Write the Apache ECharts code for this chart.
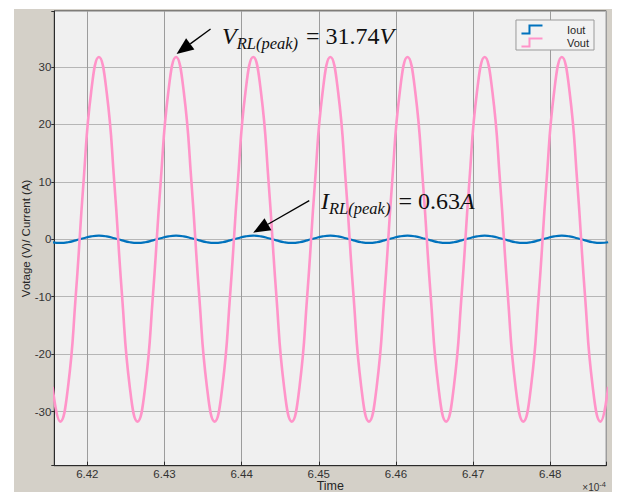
<!DOCTYPE html>
<html><head><meta charset="utf-8">
<script src="https://cdn.jsdelivr.net/npm/echarts@6/dist/echarts.min.js"></script>
<style>
html,body{margin:0;padding:0;background:#fff;}
#wrap{position:relative;width:618px;height:492px;overflow:hidden;}
#bg{position:absolute;left:14px;top:9px;width:598px;height:483px;background:#d4d0c8;}
#chart{position:absolute;left:0;top:0;width:618px;height:492px;}
</style></head><body>
<div id="wrap"><div id="bg"></div><div id="chart"></div></div>
<script>
// Time in units of 1e-4 s
const time = [
6.4155,6.4165,6.4175,6.4185,6.4195,6.4205,6.4215,6.4225,6.4235,6.4245,
6.4255,6.4265,6.4275,6.4285,6.4295,6.4305,6.4315,6.4325,6.4335,6.4345,
6.4355,6.4365,6.4375,6.4385,6.4395,6.4405,6.4415,6.4425,6.4435,6.4445,
6.4455,6.4465,6.4475,6.4485,6.4495,6.4505,6.4515,6.4525,6.4535,6.4545,
6.4555,6.4565,6.4575,6.4585,6.4595,6.4605,6.4615,6.4625,6.4635,6.4645,
6.4655,6.4665,6.4675,6.4685,6.4695,6.4705,6.4715,6.4725,6.4735,6.4745,
6.4755,6.4765,6.4775,6.4785,6.4795,6.4805,6.4815,6.4825,6.4835,6.4845,
6.4855,6.4865,6.4875];
const vout = [
-25.68,-31.74,-25.68,-9.81,9.81,25.68,31.74,25.68,9.81,-9.81,
-25.68,-31.74,-25.68,-9.81,9.81,25.68,31.74,25.68,9.81,-9.81,
-25.68,-31.74,-25.68,-9.81,9.81,25.68,31.74,25.68,9.81,-9.81,
-25.68,-31.74,-25.68,-9.81,9.81,25.68,31.74,25.68,9.81,-9.81,
-25.68,-31.74,-25.68,-9.81,9.81,25.68,31.74,25.68,9.81,-9.81,
-25.68,-31.74,-25.68,-9.81,9.81,25.68,31.74,25.68,9.81,-9.81,
-25.68,-31.74,-25.68,-9.81,9.81,25.68,31.74,25.68,9.81,-9.81,
-25.68,-31.74,-25.68];
const iout = [
-0.51,-0.63,-0.51,-0.19,0.19,0.51,0.63,0.51,0.19,-0.19,
-0.51,-0.63,-0.51,-0.19,0.19,0.51,0.63,0.51,0.19,-0.19,
-0.51,-0.63,-0.51,-0.19,0.19,0.51,0.63,0.51,0.19,-0.19,
-0.51,-0.63,-0.51,-0.19,0.19,0.51,0.63,0.51,0.19,-0.19,
-0.51,-0.63,-0.51,-0.19,0.19,0.51,0.63,0.51,0.19,-0.19,
-0.51,-0.63,-0.51,-0.19,0.19,0.51,0.63,0.51,0.19,-0.19,
-0.51,-0.63,-0.51,-0.19,0.19,0.51,0.63,0.51,0.19,-0.19,
-0.51,-0.63,-0.51];
const seriesNames = ['Iout', 'Vout'];
const xTickStep = 0.01;
const yTickStep = 10;
const xRange = [6.41572, 6.48726];
const yRange = [-39.41, 39.74];
// annotated peaks: index into time[]
const vPeakIdx = 16;   // V_RL(peak) = 31.74 V
const iPeakIdx = 26;   // I_RL(peak) = 0.63 A

const chart = echarts.init(document.getElementById('chart'), null, {renderer: 'svg', width: 618, height: 492});
const FONT = 'Liberation Sans, Arial, sans-serif';
const onStep = (v, s) => Math.abs(v / s - Math.round(v / s)) < 1e-6;

chart.setOption({
  animation: false,
  backgroundColor: 'transparent',
  grid: {left: 54.3, right: 11.7, top: 11, bottom: 26.3, show: true, outerBoundsMode: 'none', containLabel: false,
         backgroundColor: '#f0f0f0', borderColor: '#2b2b2b', borderWidth: 1},
  legend: {
    data: [
      {name: 'Iout', itemStyle: {color: 'none', borderColor: '#0072bd', borderWidth: 2}},
      {name: 'Vout', itemStyle: {color: 'none', borderColor: '#ff94c9', borderWidth: 2}}
    ],
    orient: 'vertical', right: 24, top: 20,
    icon: 'path://M0,8L8,8L8,0L21,0',
    itemWidth: 22, itemHeight: 8, itemGap: 0,
    padding: [3, 5, 1, 3],
    backgroundColor: '#f2f2f2', borderColor: '#9a9a9a', borderWidth: 1, borderRadius: 0,
    formatter: n => '{s|}' + n,
    textStyle: {fontSize: 11, color: '#262626', fontFamily: FONT, lineHeight: 12,
                rich: {s: {width: 19}}}
  },
  xAxis: {
    type: 'value', min: xRange[0], max: xRange[1], minInterval: xTickStep, maxInterval: xTickStep,
    name: 'Time', nameLocation: 'middle', nameGap: 13.5, nameMoveOverlap: false,
    nameTextStyle: {fontSize: 12.5, color: '#262626', fontFamily: FONT, verticalAlign: 'top'},
    axisLine: {show: true, onZero: false, lineStyle: {color: '#2b2b2b'}},
    axisTick: {show: true, inside: true, length: 4, lineStyle: {color: '#2b2b2b'}},
    axisLabel: {margin: 2.5, fontSize: 11.5, color: '#333', fontFamily: FONT,
                formatter: v => onStep(v, xTickStep) ? v.toFixed(2) : ''},
    splitLine: {show: true, lineStyle: {color: '#9c9c9c', width: 1}}
  },
  yAxis: {
    type: 'value', min: yRange[0], max: yRange[1], minInterval: yTickStep, maxInterval: yTickStep,
    name: 'Votage (V)/ Current (A)', nameLocation: 'middle', nameGap: 22, nameMoveOverlap: false,
    nameTextStyle: {fontSize: 11.5, color: '#262626', fontFamily: FONT},
    axisLine: {show: true, onZero: false, lineStyle: {color: '#2b2b2b'}},
    axisTick: {show: true, inside: false, length: 3, lineStyle: {color: '#2b2b2b'}},
    axisLabel: {margin: 3, fontSize: 11.5, color: '#333', fontFamily: FONT,
                formatter: v => onStep(v, yTickStep) ? String(Math.round(v)) : ''},
    splitLine: {show: true, lineStyle: {color: '#b6b6b6', width: 1}}
  },
  series: [
    {name: seriesNames[0], type: 'line', data: time.map((t, i) => [t, iout[i]]),
     smooth: true, showSymbol: false, symbol: 'none', z: 2,
     lineStyle: {color: '#0072bd', width: 2.2}, itemStyle: {color: '#0072bd'}},
    {name: seriesNames[1], type: 'line', data: time.map((t, i) => [t, vout[i]]),
     smooth: true, showSymbol: false, symbol: 'none', z: 3,
     lineStyle: {color: '#ff94c9', width: 2.6}, itemStyle: {color: '#ff94c9'}}
  ]
});

function arrow(tip, tail, len, hw) {
  const dx = tail[0] - tip[0], dy = tail[1] - tip[1];
  const d = Math.hypot(dx, dy), ux = dx / d, uy = dy / d;
  const bx = tip[0] + ux * len, by = tip[1] + uy * len, px = -uy, py = ux;
  return [
    {type: 'line', z: 50, shape: {x1: tail[0], y1: tail[1], x2: bx, y2: by}, style: {stroke: '#000', lineWidth: 1.3}},
    {type: 'polygon', z: 50, shape: {points: [tip, [bx + px * hw, by + py * hw], [bx - px * hw, by - py * hw]]}, style: {fill: '#000'}}
  ];
}
const SERIF = 'Liberation Serif, Times New Roman, serif';
const richStyle = {
  v: {fontFamily: SERIF, fontStyle: 'italic', fontSize: 24, lineHeight: 32, fill: '#111'},
  s: {fontFamily: SERIF, fontStyle: 'italic', fontSize: 16.5, lineHeight: 16, verticalAlign: 'bottom', padding: [0, 2, 0, 0], fill: '#111'},
  n: {fontFamily: SERIF, fontSize: 24, lineHeight: 32, fill: '#111'}
};
const vp = chart.convertToPixel({gridIndex: 0}, [time[vPeakIdx], vout[vPeakIdx]]);
const ip = chart.convertToPixel({gridIndex: 0}, [time[iPeakIdx], iout[iPeakIdx]]);
const vTip = [vp[0] + 0.5, vp[1] - 3], iTip = [ip[0], ip[1] - 3];
chart.setOption({
  graphic: [
    ...arrow(vTip, [vTip[0] + 34, vTip[1] - 25], 17, 7),
    ...arrow(iTip, [iTip[0] + 56, iTip[1] - 32], 17, 7),
    {type: 'text', z: 50, x: 222, y: 20,
     style: {text: '{v|V}{s|RL(peak)}{n| = 31.74}{v|V}', rich: richStyle, verticalAlign: 'top'}},
    {type: 'text', z: 50, x: 321, y: 185,
     style: {text: '{v|I}{s|RL(peak)}{n| = 0.63}{v|A}', rich: richStyle, verticalAlign: 'top'}},
    {type: 'text', z: 50, right: 12, top: 480,
     style: {text: '{a|×10}{b|-4}', fill: '#333',
       rich: {a: {fontFamily: FONT, fontSize: 10, lineHeight: 12, verticalAlign: 'bottom', fill: '#333'},
              b: {fontFamily: FONT, fontSize: 7.5, lineHeight: 12, verticalAlign: 'top', fill: '#333'}}}}
  ]
});
</script>
</body></html>
